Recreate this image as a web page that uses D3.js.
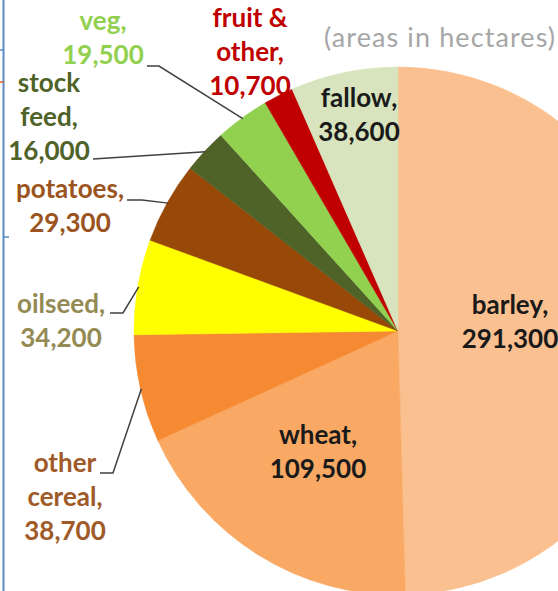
<!DOCTYPE html>
<html>
<head>
<meta charset="utf-8">
<script src="https://cdn.jsdelivr.net/npm/d3@7"></script>
<style>
  html, body { margin: 0; padding: 0; background: #fff; }
  svg { display: block; }
</style>
</head>
<body>
<svg id="chart" width="558" height="591"></svg>
<script>
// ---- data ----
const categories = ["barley", "wheat", "other cereal", "oilseed", "potatoes", "stock feed", "veg", "fruit & other", "fallow"];
const areas = [291300, 109500, 38700, 34200, 29300, 16000, 19500, 10700, 38600];
const labelLines = [
  ["barley,", "291,300"],
  ["wheat,", "109,500"],
  ["other", "cereal,", "38,700"],
  ["oilseed,", "34,200"],
  ["potatoes,", "29,300"],
  ["stock", "feed,", "16,000"],
  ["veg,", "19,500"],
  ["fruit &", "other,", "10,700"],
  ["fallow,", "38,600"]
];
const title = "(areas in hectares)";

// ---- styles / layout ----
const sliceColors = ["#FAC090", "#F9A964", "#F68A32", "#FFFF00", "#984807", "#4F6228", "#92D050", "#C00000", "#D7E4BD"];
const labelColors = ["#1a1a1a", "#1a1a1a", "#A05A28", "#948A54", "#9B5420", "#4F6228", "#92D050", "#C00000", "#1a1a1a"];
// label anchor (center x, first baseline y)
const labelPos = [[510, 314], [318, 444], [65, 472], [61, 313], [70, 198], [49, 92], [103, 30], [250, 27], [359, 107]];
// leader start points (null = no leader) [x of text end, y, elbow x]
const leaders = [null, null, [100, 473, 113], [110, 313, 123], [127, 200, 142], [93, 159, null], [147, 66, 159], null, null];

const cx = 398, cy = 331, R = 264;
const svg = d3.select("#chart");
const font = "Lato, 'Open Sans', Carlito, Calibri, sans-serif";

// slide border artifacts
svg.append("line").attr("x1", 3.5).attr("x2", 3.5).attr("y1", 0).attr("y2", 591)
  .attr("stroke", "#5B8BC6").attr("stroke-width", 2);
svg.append("line").attr("x1", 0).attr("x2", 4).attr("y1", 50).attr("y2", 50).attr("stroke", "#5B8BC6").attr("stroke-width", 1.5);
svg.append("line").attr("x1", 0).attr("x2", 4).attr("y1", 82).attr("y2", 82).attr("stroke", "#D0612A").attr("stroke-width", 1.5);
svg.append("line").attr("x1", 3).attr("x2", 9).attr("y1", 237).attr("y2", 237).attr("stroke", "#5B8BC6").attr("stroke-width", 1.5);

const pie = d3.pie().sort(null).value(d => d).startAngle(0).endAngle(2 * Math.PI);
const arcs = pie(areas);
const arc = d3.arc().innerRadius(0).outerRadius(R);

const g = svg.append("g").attr("transform", `translate(${cx},${cy})`);
g.selectAll("path.slice").data(arcs).enter().append("path")
  .attr("class", "slice")
  .attr("d", arc)
  .attr("fill", (d, i) => sliceColors[i])
  .attr("stroke", (d, i) => sliceColors[i])
  .attr("stroke-width", 0.5);

// leader lines
arcs.forEach((a, i) => {
  const L = leaders[i];
  if (!L) return;
  const mid = (a.startAngle + a.endAngle) / 2;
  const ex = cx + Math.sin(mid) * (R - 1);
  const ey = cy - Math.cos(mid) * (R - 1);
  const pts = [[L[0], L[1]]];
  if (L[2] !== null) pts.push([L[2], L[1]]);
  pts.push([ex, ey]);
  svg.append("path")
    .attr("d", d3.line()(pts))
    .attr("fill", "none")
    .attr("stroke", "#404040")
    .attr("stroke-width", 1.5);
});

// labels
const lineH = 34;
labelLines.forEach((lines, i) => {
  const t = svg.append("text")
    .attr("x", labelPos[i][0])
    .attr("y", labelPos[i][1])
    .attr("text-anchor", "middle")
    .attr("font-family", font)
    .attr("font-weight", "bold")
    .attr("font-size", 26)
    .attr("fill", labelColors[i]);
  lines.forEach((s, k) => {
    t.append("tspan").attr("x", labelPos[i][0]).attr("y", labelPos[i][1] + k * lineH).text(s);
  });
});

// title
svg.append("text")
  .attr("x", 324)
  .attr("y", 47)
  .attr("font-family", font)
  .attr("font-size", 27)
  .attr("letter-spacing", 1.1)
  .attr("fill", "#A6A6A6")
  .text(title);
</script>
</body>
</html>
